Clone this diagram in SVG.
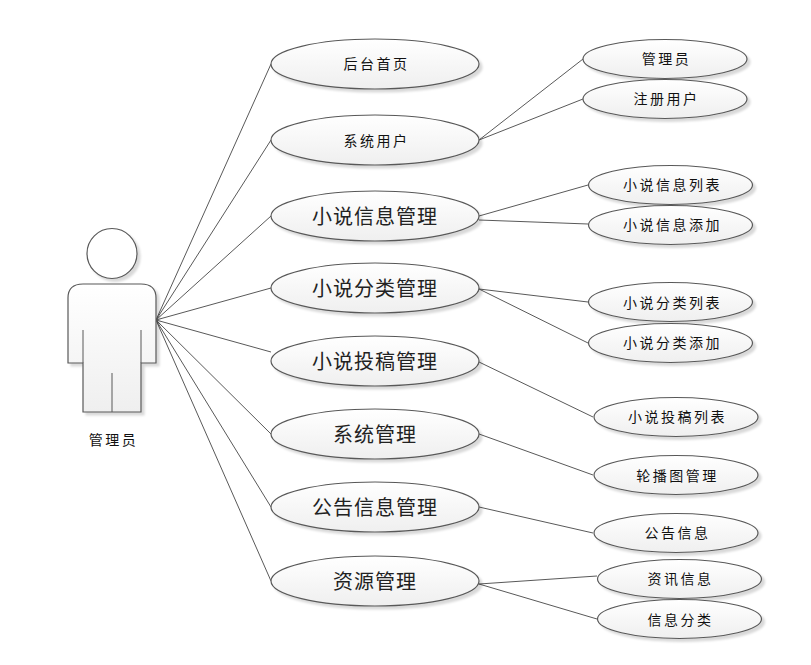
<svg xmlns="http://www.w3.org/2000/svg" width="811" height="665" viewBox="0 0 811 665">
<style>
.n{stroke:#595959;stroke-width:1.2;fill:url(#g)}
.c{stroke:#595959;stroke-width:1;fill:none}
.t{font-family:"Noto Sans CJK SC","Liberation Sans",sans-serif;text-anchor:middle;fill:#111}
.s{font-size:14px;letter-spacing:2.5px}
.b{font-size:20px;letter-spacing:1px;fill:#222}
</style>
<defs>
<linearGradient id="g" x1="0" y1="0" x2="0" y2="1"><stop offset="0" stop-color="#fff"/><stop offset="1" stop-color="#efefef"/></linearGradient>
<filter id="sh" x="-10%" y="-20%" width="125%" height="150%"><feDropShadow dx="3" dy="3" stdDeviation="1" flood-color="#000" flood-opacity="0.15"/></filter>
</defs>
<rect width="811" height="665" fill="#fff"/>
<g id="connectors" class="c">
<path d="M156 320L271 64M156 320L271 140M156 320L271 216M156 320L271 288M156 320L271 352M156 320L271 434M156 320L271 507M156 320L271 581"/>
<path d="M479 140L583 59M479 140L583 99M479 216L588 185M479 220L588 224M479 289L588 302M479 289L588 343M479 362L593 417M479 434L593 475M479 507L593 533M479 584L597 576M479 584L597 619"/>
</g>
<g id="actor" filter="url(#sh)">
<circle class="n" cx="112" cy="253.5" r="25" style="fill:#fff"/>
<path class="n" d="M68 363V298Q68 284 83 284H141Q156 284 156 298V363H141V412H83V363Z"/>
<path class="c" d="M83 363V330M141 363V330M112 412V373"/>
</g>
<text class="t s" x="113.5" y="445">管理员</text>
<g id="n1"><ellipse class="n" filter="url(#sh)" cx="375" cy="64" rx="104" ry="25"/><text class="t s" x="376.5" y="69">后台首页</text></g>
<g id="n2"><ellipse class="n" filter="url(#sh)" cx="375" cy="140" rx="104" ry="25"/><text class="t s" x="376.5" y="146">系统用户</text></g>
<g id="n3"><ellipse class="n" filter="url(#sh)" cx="375" cy="216" rx="104" ry="25"/><text class="t b" x="375" y="224">小说信息管理</text></g>
<g id="n4"><ellipse class="n" filter="url(#sh)" cx="375" cy="288" rx="104" ry="25"/><text class="t b" x="375" y="296">小说分类管理</text></g>
<g id="n5"><ellipse class="n" filter="url(#sh)" cx="375" cy="361" rx="104" ry="25"/><text class="t b" x="375" y="369">小说投稿管理</text></g>
<g id="n6"><ellipse class="n" filter="url(#sh)" cx="375" cy="434" rx="104" ry="25"/><text class="t b" x="375" y="442">系统管理</text></g>
<g id="n7"><ellipse class="n" filter="url(#sh)" cx="375" cy="507" rx="104" ry="25"/><text class="t b" x="375" y="515">公告信息管理</text></g>
<g id="n8"><ellipse class="n" filter="url(#sh)" cx="375" cy="581" rx="104" ry="25"/><text class="t b" x="375" y="589">资源管理</text></g>
<g id="r1"><ellipse class="n" filter="url(#sh)" cx="665" cy="59" rx="82" ry="19.5"/><text class="t s" x="666.5" y="64">管理员</text></g>
<g id="r2"><ellipse class="n" filter="url(#sh)" cx="665" cy="99" rx="82" ry="19.5"/><text class="t s" x="666.5" y="104">注册用户</text></g>
<g id="r3"><ellipse class="n" filter="url(#sh)" cx="670.5" cy="185" rx="82" ry="19.5"/><text class="t s" x="672.5" y="190">小说信息列表</text></g>
<g id="r4"><ellipse class="n" filter="url(#sh)" cx="670.5" cy="225" rx="82" ry="19.5"/><text class="t s" x="672.5" y="230">小说信息添加</text></g>
<g id="r5"><ellipse class="n" filter="url(#sh)" cx="670.5" cy="302" rx="82" ry="19.5"/><text class="t s" x="672.5" y="308">小说分类列表</text></g>
<g id="r6"><ellipse class="n" filter="url(#sh)" cx="670.5" cy="343" rx="82" ry="19.5"/><text class="t s" x="672.5" y="348">小说分类添加</text></g>
<g id="r7"><ellipse class="n" filter="url(#sh)" cx="676" cy="417" rx="82" ry="19.5"/><text class="t s" x="677.5" y="422">小说投稿列表</text></g>
<g id="r8"><ellipse class="n" filter="url(#sh)" cx="676" cy="475" rx="82" ry="19.5"/><text class="t s" x="677.5" y="481">轮播图管理</text></g>
<g id="r9"><ellipse class="n" filter="url(#sh)" cx="676" cy="533" rx="82" ry="19.5"/><text class="t s" x="677.5" y="538">公告信息</text></g>
<g id="r10"><ellipse class="n" filter="url(#sh)" cx="679.5" cy="579" rx="82" ry="19.5"/><text class="t s" x="680.5" y="584">资讯信息</text></g>
<g id="r11"><ellipse class="n" filter="url(#sh)" cx="679.5" cy="619" rx="82" ry="19.5"/><text class="t s" x="680.5" y="625">信息分类</text></g>
</svg>
